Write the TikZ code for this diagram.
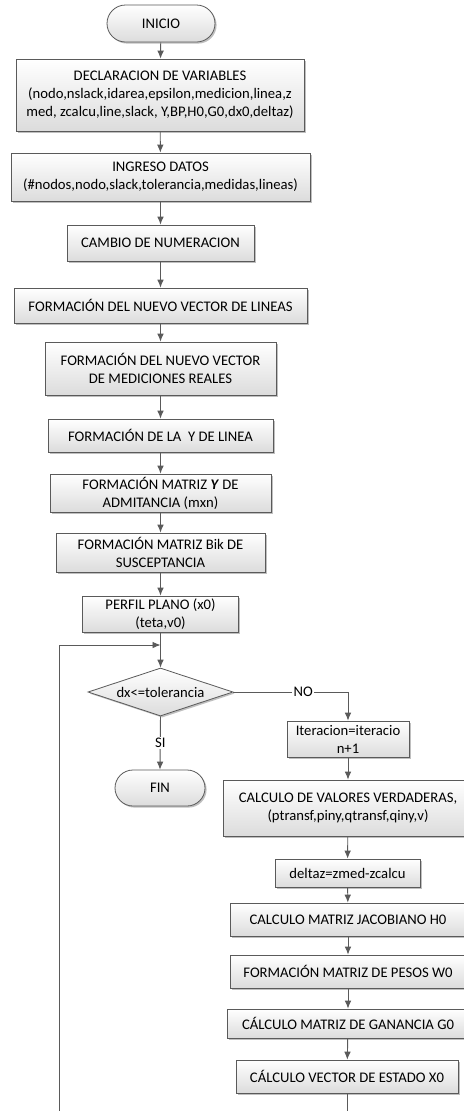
\documentclass[tikz,border=0pt]{standalone}
\usepackage{fontspec}
\setmainfont{Carlito}
\usetikzlibrary{shapes.geometric,shapes.misc,arrows.meta,shadows}
\definecolor{edge}{HTML}{5A5A5A}
\definecolor{boxbot}{HTML}{DCDCDC}
\tikzset{
  base/.style={draw=edge, line width=0.6pt, top color=white, bottom color=boxbot,
    drop shadow={shadow xshift=1.2pt, shadow yshift=-1.2pt, opacity=0.25, fill=black},
    inner sep=0pt, align=center, font=\fontsize{11pt}{13.5pt}\selectfont},
  procbox/.style={base, rectangle},
  termbox/.style={base, rounded rectangle},
  decbox/.style={base, diamond, aspect=3},
  conn/.style={draw=edge, line width=0.7pt, -{Latex[length=6pt,width=5pt]}},
  plainconn/.style={draw=edge, line width=0.7pt},
  lbl/.style={fill=white, inner sep=1pt, font=\fontsize{11pt}{13pt}\selectfont}
}
\newcommand{\bx}[5]{\node[procbox, minimum width=#3*0.75pt, minimum height=#4*0.75pt] (#1) at (#2) {#5};}
\begin{document}
\begin{tikzpicture}[x=0.75pt,y=-0.75pt]
\clip (0,0) rectangle (464,1111);
\fill[white] (0,0) rectangle (464,1111);
% left column
\node[termbox, minimum width=108*0.75pt, minimum height=37*0.75pt] (inicio) at (161,23.5) {INICIO};
\bx{decl}{160,95}{288}{72}{DECLARACION DE VARIABLES\\(nodo,nslack,idarea,epsilon,medicion,linea,z\\med, zcalcu,line,slack, Y,BP,H0,G0,dx0,deltaz)}
\bx{ingreso}{160.5,177}{299}{48}{INGRESO DATOS\\(\#nodos,nodo,slack,tolerancia,medidas,lineas)}
\bx{cambio}{160.5,243}{187}{36}{CAMBIO DE NUMERACION}
\bx{lineas}{160.5,305.5}{293}{35}{FORMACIÓN DEL NUEVO VECTOR DE LINEAS}
\bx{medic}{160.5,368.5}{231}{53}{FORMACIÓN DEL NUEVO VECTOR\\DE MEDICIONES REALES}
\bx{ylinea}{160.5,435.5}{225}{33}{FORMACIÓN DE LA\ \ Y DE LINEA}
\bx{ymat}{160.5,493}{221}{38}{FORMACIÓN MATRIZ \textbf{\textit{Y}} DE\\ADMITANCIA (mxn)}
\bx{bik}{160.5,552.5}{209}{39}{FORMACIÓN MATRIZ Bik DE\\SUSCEPTANCIA}
\bx{perfil}{160.5,614}{156}{36}{PERFIL PLANO (x0)\\(teta,v0)}
\node[decbox, minimum width=145*0.75pt, minimum height=48*0.75pt] (dec) at (160.5,692) {dx<=tolerancia};
\node[termbox, minimum width=90*0.75pt, minimum height=36*0.75pt] (fin) at (160,788) {FIN};
% right column
\bx{iter}{348,739}{122}{36}{Iteracion=iteracio\\n+1}
\bx{valores}{348,808}{250}{56}{CALCULO DE VALORES VERDADERAS,\\(ptransf,piny,qtransf,qiny,v)}
\bx{deltaz}{347.5,873}{145}{28}{deltaz=zmed-zcalcu}
\bx{jacob}{348,919.5}{236}{33}{CALCULO MATRIZ JACOBIANO H0}
\bx{pesos}{348,971.5}{236}{33}{FORMACIÓN MATRIZ DE PESOS W0}
\bx{gan}{348,1023.5}{242}{29}{CÁLCULO MATRIZ DE GANANCIA G0}
\bx{estado}{347,1076.5}{222}{33}{CÁLCULO VECTOR DE ESTADO X0}
% connectors
\draw[conn] (inicio) -- (decl);
\draw[conn] (decl) -- (ingreso);
\draw[conn] (ingreso) -- (cambio);
\draw[conn] (cambio) -- (lineas);
\draw[conn] (lineas) -- (medic);
\draw[conn] (medic) -- (ylinea);
\draw[conn] (ylinea) -- (ymat);
\draw[conn] (ymat) -- (bik);
\draw[conn] (bik) -- (perfil);
\draw[conn] (perfil) -- (dec);
\draw[conn] (dec.south) -- node[lbl, pos=0.5] {SI} (fin.north);
\draw[conn] (dec.east) -- (iter.north |- dec.east) node[lbl, pos=0.61] {NO} -- (iter.north);
\draw[conn] (iter) -- (valores);
\draw[conn] (valores) -- (deltaz);
\draw[conn] (deltaz) -- (jacob);
\draw[conn] (jacob) -- (pesos);
\draw[conn] (pesos) -- (gan);
\draw[conn] (gan) -- (estado);
\coordinate (join) at (160.5,645);
\draw[conn] (estado.south) -- ++(0,40) -| (59.5,645) -- (join);
\end{tikzpicture}
\end{document}
